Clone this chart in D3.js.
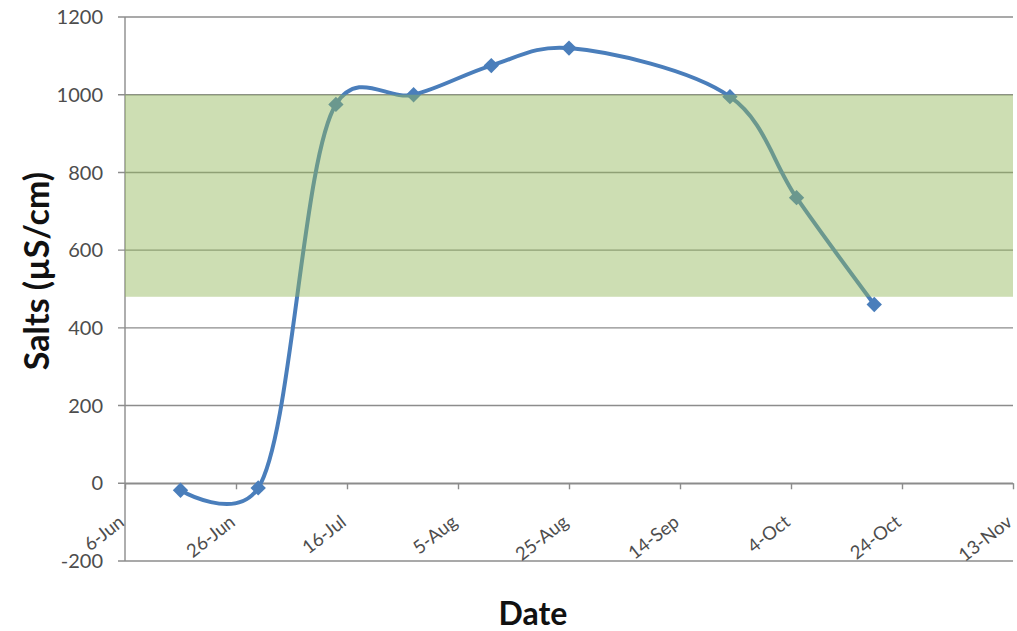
<!DOCTYPE html>
<html>
<head>
<meta charset="utf-8">
<script src="https://cdn.jsdelivr.net/npm/d3@7"></script>
<style>
  html, body { margin: 0; padding: 0; background: #fff; }
  svg { display: block; }
</style>
</head>
<body>
<svg id="chart" width="1017" height="631"></svg>
<script>
// ---- data ----
const dates = ["2012-06-16", "2012-06-30", "2012-07-14", "2012-07-28", "2012-08-11", "2012-08-25", "2012-09-23", "2012-10-05", "2012-10-19"];
const salts = [-18, -12, 975, 1000, 1075, 1120, 995, 735, 460];
const bandRange = [480, 1000];
const xTickDates = ["2012-06-06", "2012-06-26", "2012-07-16", "2012-08-05", "2012-08-25", "2012-09-14", "2012-10-04", "2012-10-24", "2012-11-13"];
const xTickLabels = ["6-Jun", "26-Jun", "16-Jul", "5-Aug", "25-Aug", "14-Sep", "4-Oct", "24-Oct", "13-Nov"];
const yTicks = [-200, 0, 200, 400, 600, 800, 1000, 1200];

const parse = d3.utcParse("%Y-%m-%d");
const svg = d3.select("#chart");
const font = "Lato, 'Open Sans', sans-serif";

const mL = 125, mR = 1013, mT = 17, mB = 561;
const x = d3.scaleUtc().domain([parse("2012-06-06"), parse("2012-11-13")]).range([mL, mR]);
const y = d3.scaleLinear().domain([-200, 1200]).range([mB, mT]);

// gridlines
svg.append("g").selectAll("line").data(yTicks).join("line")
  .attr("x1", mL - 7).attr("x2", mR)
  .attr("y1", d => y(d)).attr("y2", d => y(d))
  .attr("stroke", "#8c8c8c").attr("stroke-width", 1.4);

// y axis line
svg.append("line").attr("x1", mL).attr("x2", mL).attr("y1", y(1200)).attr("y2", y(-200))
  .attr("stroke", "#8c8c8c").attr("stroke-width", 1.4);

// y tick labels
svg.append("g").selectAll("text").data(yTicks).join("text")
  .attr("x", mL - 22).attr("y", d => y(d)).attr("dy", "0.36em")
  .attr("text-anchor", "end").attr("font-family", font).attr("font-size", 20)
  .attr("fill", "#4d4d4d").text(d => d);

// x axis at zero
const xAxis = d3.axisBottom(x)
  .tickValues(xTickDates.map(parse))
  .tickFormat((d, i) => xTickLabels[i])
  .tickSize(6).tickSizeOuter(0);
const gx = svg.append("g").attr("transform", `translate(0,${y(0)})`).call(xAxis);
gx.select(".domain").attr("stroke", "#8c8c8c").attr("stroke-width", 1.4);
gx.selectAll(".tick line").attr("stroke", "#8c8c8c").attr("stroke-width", 1.4);
gx.selectAll(".tick text")
  .attr("font-family", font).attr("font-size", 18.5).attr("fill", "#4d4d4d")
  .attr("text-anchor", "end")
  .attr("dy", null).attr("y", 0)
  .attr("transform", "translate(0,41) rotate(-38)");

// line
const line = d3.line()
  .x((d, i) => x(parse(dates[i])))
  .y(d => y(d))
  .curve(d3.curveCatmullRom.alpha(0.25));
svg.append("path").datum(salts)
  .attr("d", line).attr("fill", "none")
  .attr("stroke", "#4a7ebb").attr("stroke-width", 4);

// markers
svg.append("g").selectAll("path").data(salts).join("path")
  .attr("d", d3.symbol(d3.symbolDiamond2, 150))
  .attr("transform", (d, i) => `translate(${x(parse(dates[i]))},${y(d)})`)
  .attr("fill", "#4a7ebb");

// green band (semi-transparent overlay)
svg.append("rect")
  .attr("x", mL).attr("width", mR - mL)
  .attr("y", y(bandRange[1])).attr("height", y(bandRange[0]) - y(bandRange[1]))
  .attr("fill", "#93b65a").attr("opacity", 0.46);

// axis titles
svg.append("text")
  .attr("transform", "translate(49,271) rotate(-90)")
  .attr("text-anchor", "middle").attr("font-family", font).attr("font-weight", "bold")
  .attr("font-size", 34).attr("fill", "#111").text("Salts (µS/cm)");
svg.append("text")
  .attr("x", 533).attr("y", 625)
  .attr("text-anchor", "middle").attr("font-family", font).attr("font-weight", "bold")
  .attr("font-size", 32).attr("fill", "#111").text("Date");
</script>
</body>
</html>
